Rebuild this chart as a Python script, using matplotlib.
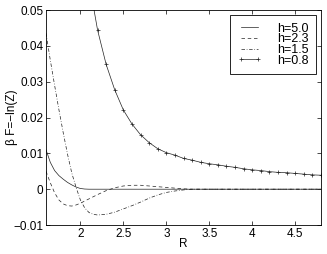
import matplotlib
matplotlib.use("Agg")
import matplotlib.pyplot as plt

plt.rcParams['font.family'] = ['Liberation Sans', 'DejaVu Sans']
plt.rcParams['font.size'] = 8.5

# h = 5.0 (solid)
r_50 = [1.6, 1.65, 1.7, 1.75, 1.8, 1.85, 1.9, 1.95, 2.0, 2.05, 2.1, 2.3, 2.6, 3.0, 3.5, 4.0, 4.8]
f_50 = [0.0110, 0.0075, 0.0052, 0.0038, 0.0028, 0.0019, 0.0012, 0.0006, 0.0002, 0.00005, 0.0, 0.0, 0.0, 0.0, 0.0, 0.0, 0.0]

# h = 2.3 (dashed)
r_23 = [1.6, 1.65, 1.7, 1.75, 1.8, 1.85, 1.9, 1.95, 2.0, 2.1, 2.2, 2.3, 2.4, 2.5, 2.6, 2.7, 2.8, 2.9, 3.0, 3.1, 3.2, 3.3, 3.5, 4.0, 4.8]
f_23 = [0.0050, 0.0018, -0.0010, -0.0030, -0.0041, -0.0046, -0.0047, -0.0044, -0.0039, -0.0027, -0.0015,
        -0.0004, 0.0004, 0.0009, 0.0011, 0.0011, 0.0009, 0.0007, 0.0005, 0.0003, 0.0001, 0.0, 0.0, 0.0, 0.0]

# h = 1.5 (dash-dot)
r_15 = [1.6, 1.65, 1.7, 1.75, 1.8, 1.85, 1.9, 1.95, 2.0, 2.05, 2.1, 2.15, 2.2, 2.3, 2.4, 2.5, 2.6, 2.7, 2.8, 2.9,
        3.0, 3.1, 3.2, 3.3, 3.5, 4.0, 4.8]
f_15 = [0.0435, 0.0360, 0.0290, 0.0222, 0.0158, 0.0098, 0.0045, 0.0005, -0.0030, -0.0052, -0.0065, -0.0070,
        -0.0072, -0.0070, -0.0064, -0.0055, -0.0046, -0.0036, -0.0025, -0.0016, -0.0009, -0.0005, -0.0002,
        0.0, 0.0, 0.0, 0.0]

# h = 0.8 (solid with + markers)
r_08 = [2.1, 2.2, 2.3, 2.4, 2.5, 2.6, 2.7, 2.8, 2.9, 3.0, 3.1, 3.2, 3.3, 3.4, 3.5, 3.6, 3.7, 3.8, 3.9, 4.0,
        4.1, 4.2, 4.3, 4.4, 4.5, 4.6, 4.7, 4.8]
f_08 = [0.0580, 0.0444, 0.0348, 0.0277, 0.0221, 0.0182, 0.0152, 0.0130, 0.0113, 0.0102, 0.0095, 0.0086,
        0.0081, 0.0075, 0.0071, 0.0068, 0.0064, 0.0061, 0.0057, 0.0054, 0.0052, 0.0049, 0.0047, 0.0046,
        0.0044, 0.0042, 0.0040, 0.0039]

xticks = [2, 2.5, 3, 3.5, 4, 4.5]
xticklabels = ['2', '2.5', '3', '3.5', '4', '4.5']
yticks = [-0.01, 0, 0.01, 0.02, 0.03, 0.04, 0.05]
yticklabels = ['\u22120.01', '0', '0.01', '0.02', '0.03', '0.04', '0.05']

fig = plt.figure(figsize=(3.27, 2.54), dpi=100)
ax = fig.add_axes([0.1407, 0.114, 0.8410, 0.8466])

lw = 0.5
ax.plot(r_50, f_50, color='#222222', lw=lw, ls='-', label='h=5.0')
ax.plot(r_23, f_23, color='#222222', lw=lw, ls=(0, (5, 4)), label='h=2.3')
ax.plot(r_15, f_15, color='#222222', lw=lw, ls=(0, (5, 2.5, 1, 2.5)), label='h=1.5')
ax.plot(r_08, f_08, color='#222222', lw=lw, ls='-', marker='+', ms=3, mew=0.5, label='h=0.8')

ax.set_xlim(1.6, 4.8)
ax.set_ylim(-0.01, 0.05)
ax.set_xticks(xticks)
ax.set_xticklabels(xticklabels)
ax.set_yticks(yticks)
ax.set_yticklabels(yticklabels)
ax.tick_params(direction='in', top=True, right=True, length=3, width=0.5, pad=2)
for s in ax.spines.values():
    s.set_linewidth(0.6)

ax.set_xlabel('R', labelpad=-1)
ax.set_ylabel('\u03b2 F=\u2212ln(Z)')
ax.yaxis.set_label_coords(-0.103, 0.5)

leg = ax.legend(loc='upper right', numpoints=2, fancybox=False, edgecolor='black',
                framealpha=1, handlelength=2.0, handletextpad=1.2, borderpad=0.6,
                labelspacing=-0.1, borderaxespad=0.4, fontsize=9)
leg.get_frame().set_linewidth(0.6)

fig.savefig('out.png', dpi=100)
